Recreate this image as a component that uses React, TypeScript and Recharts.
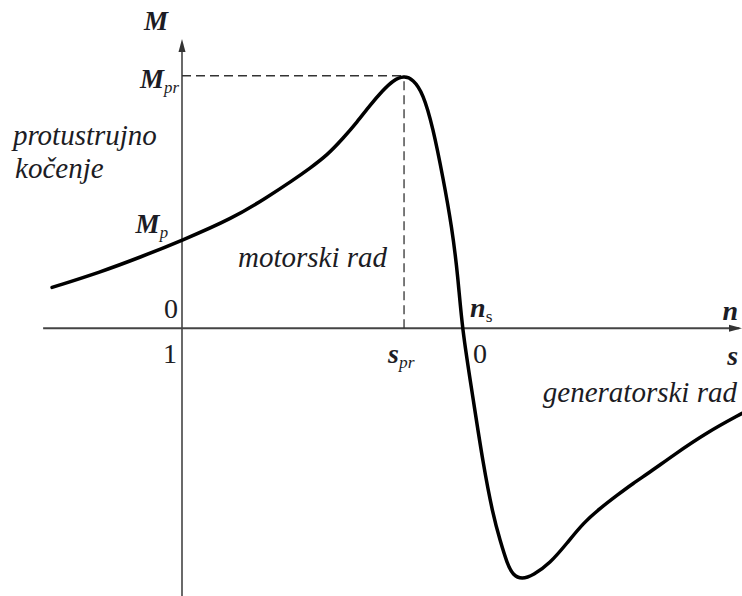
import React from 'react';
import {
  LineChart,
  Line,
  XAxis,
  YAxis,
  ReferenceLine,
  ReferenceDot,
} from 'recharts';

// speed n (ns = 1) and torque M (Mpr = 1)
const speedN = [
  -0.464, -0.293, -0.15, 0, 0.182, 0.304, 0.396, 0.457, 0.518, 0.575, 0.625, 0.671, 0.718,
  0.754, 0.793, 0.825, 0.861, 0.896, 0.932, 0.964, 0.986, 1.0, 1.039, 1.075, 1.111, 1.136,
  1.161, 1.182, 1.214, 1.254, 1.314, 1.375, 1.432, 1.493, 1.554, 1.611, 1.671, 1.754,
  1.875, 2.0,
];
const torqueM = [
  0.162, 0.222, 0.281, 0.348, 0.436, 0.519, 0.586, 0.634, 0.685, 0.752, 0.816, 0.883, 0.943,
  0.982, 1.0, 0.986, 0.931, 0.796, 0.598, 0.4, 0.202, 0, -0.273, -0.535, -0.741, -0.84,
  -0.931, -0.978, -0.994, -0.978, -0.931, -0.851, -0.772, -0.713, -0.661, -0.614, -0.57,
  -0.503, -0.412, -0.337,
];

const sPr = 0.793;
const mPr = 1.0;

const data = speedN.map((n, i) => ({ n, m: torqueM[i] }));

const SERIF = 'Liberation Serif';
const INK = '#1c1c24';

type Part = { t: string; sub?: boolean; bold?: boolean; upright?: boolean };
type Note = { n: number; m: number; anchor: 'start' | 'middle' | 'end'; size: number; parts: Part[] };

const notes: Note[] = [
  { n: -0.093, m: 1.18, anchor: 'middle', size: 27, parts: [{ t: 'M', bold: true }] },
  { n: -0.011, m: 0.95, anchor: 'end', size: 27, parts: [{ t: 'M', bold: true }, { t: 'pr', sub: true }] },
  { n: -0.05, m: 0.376, anchor: 'end', size: 27, parts: [{ t: 'M', bold: true }, { t: 'p', sub: true }] },
  { n: -0.604, m: 0.725, anchor: 'start', size: 29, parts: [{ t: 'protustrujno' }] },
  { n: -0.596, m: 0.594, anchor: 'start', size: 29, parts: [{ t: 'kočenje' }] },
  { n: 0.2, m: 0.242, anchor: 'start', size: 29, parts: [{ t: 'motorski rad' }] },
  { n: -0.014, m: 0.04, anchor: 'end', size: 28, parts: [{ t: '0', upright: true }] },
  { n: -0.018, m: -0.139, anchor: 'end', size: 28, parts: [{ t: '1', upright: true }] },
  { n: 1.029, m: 0.044, anchor: 'start', size: 28, parts: [{ t: 'n', bold: true }, { t: 's', sub: true, upright: true }] },
  { n: 1.039, m: -0.139, anchor: 'start', size: 28, parts: [{ t: '0', upright: true }] },
  { n: 0.736, m: -0.139, anchor: 'start', size: 28, parts: [{ t: 's', bold: true }, { t: 'pr', sub: true }] },
  { n: 1.986, m: 0.032, anchor: 'end', size: 28, parts: [{ t: 'n', bold: true }] },
  { n: 1.986, m: -0.147, anchor: 'end', size: 28, parts: [{ t: 's', bold: true }] },
  { n: 1.982, m: -0.293, anchor: 'end', size: 29, parts: [{ t: 'generatorski rad' }] },
];

const renderNote = (note: Note) => (props: any) => {
  const { cx, cy } = props;
  let shifted = false;
  return (
    <text
      x={cx}
      y={cy}
      textAnchor={note.anchor}
      style={{ fontFamily: SERIF, fontSize: note.size, fill: INK }}
    >
      {note.parts.map((p, i) => {
        const dy = p.sub ? 5 : shifted ? -5 : 0;
        shifted = !!p.sub;
        return (
          <tspan
            key={i}
            dy={dy}
            style={{
              fontFamily: SERIF,
              fontSize: p.sub ? note.size * 0.62 : note.size,
              fontWeight: p.bold ? 'bold' : 'normal',
              fontStyle: p.upright ? 'normal' : 'italic',
            }}
          >
            {p.t}
          </tspan>
        );
      })}
    </text>
  );
};

const arrowUp = (props: any) => (
  <path d={`M${props.cx},${props.cy} L${props.cx - 3.5},${props.cy + 13} L${props.cx + 3.5},${props.cy + 13} Z`} fill="#333" />
);
const arrowRight = (props: any) => (
  <path d={`M${props.cx},${props.cy} L${props.cx - 13},${props.cy - 3.5} L${props.cx - 13},${props.cy + 3.5} Z`} fill="#333" />
);

export default function App() {
  return (
    <div style={{ position: 'absolute', left: 0, top: 0, background: '#fff' }}>
      <LineChart width={742} height={596} data={data} margin={{ top: 0, right: 0, bottom: 0, left: 0 }}>
        <XAxis dataKey="n" type="number" domain={[-0.65, 2.0]} hide />
        <YAxis type="number" domain={[-1.06, 1.3]} hide />
        <ReferenceLine segment={[{ x: -0.496, y: 0 }, { x: 1.99, y: 0 }]} stroke="#444" strokeWidth={2} />
        <ReferenceLine segment={[{ x: 0, y: -1.06 }, { x: 0, y: 1.12 }]} stroke="#444" strokeWidth={1.6} />
        <ReferenceLine
          segment={[{ x: 0, y: mPr }, { x: sPr, y: mPr }]}
          stroke="#333"
          strokeWidth={1.3}
          strokeDasharray="9 5"
        />
        <ReferenceLine
          segment={[{ x: sPr, y: 0 }, { x: sPr, y: mPr }]}
          stroke="#333"
          strokeWidth={1.3}
          strokeDasharray="9 5"
        />
        <ReferenceDot x={0} y={1.146} r={0} shape={arrowUp} />
        <ReferenceDot x={2.0} y={0} r={0} shape={arrowRight} />
        <Line
          type="basis"
          dataKey="m"
          stroke="#000"
          strokeWidth={3.5}
          strokeLinecap="round"
          dot={false}
          activeDot={false}
          isAnimationActive={false}
        />
        {notes.map((note, i) => (
          <ReferenceDot key={i} x={note.n} y={note.m} r={0} shape={renderNote(note)} />
        ))}
      </LineChart>
    </div>
  );
}
